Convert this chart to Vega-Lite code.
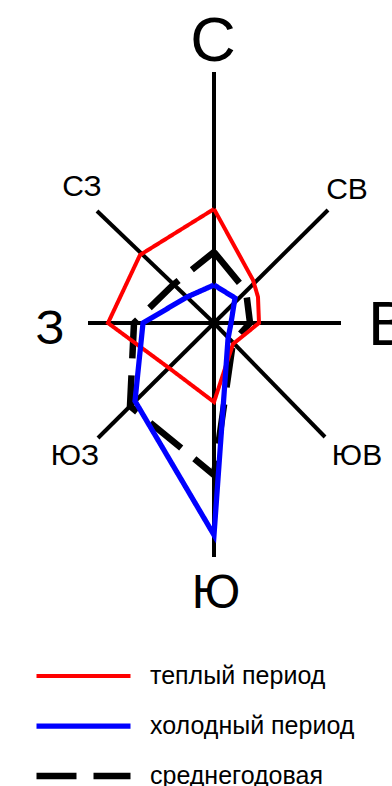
{
  "$schema": "https://vega.github.io/schema/vega-lite/v6.json",
  "width": 392,
  "height": 786,
  "padding": 0,
  "autosize": {"type": "none"},
  "background": "#ffffff",
  "config": {"view": {"stroke": null}, "font": "Liberation Sans"},
  "datasets": {
    "axes": [
      {"dir": "С", "x": 0, "y": 251},
      {"dir": "СВ", "x": 114, "y": 113},
      {"dir": "В", "x": 127, "y": 0},
      {"dir": "ЮВ", "x": 111, "y": -114},
      {"dir": "Ю", "x": 0, "y": -234},
      {"dir": "ЮЗ", "x": -116, "y": -115},
      {"dir": "З", "x": -126, "y": 0},
      {"dir": "СЗ", "x": -117, "y": 112}
    ],
    "polys": [
      {"series": "среднегодовая", "i": 0, "dir": "С", "x": 0, "y": 71},
      {"series": "среднегодовая", "i": 1, "dir": "СВ", "x": 32, "y": 32},
      {"series": "среднегодовая", "i": 2, "dir": "В", "x": 36, "y": 0},
      {"series": "среднегодовая", "i": 3, "dir": "ЮВ", "x": 19, "y": -19},
      {"series": "среднегодовая", "i": 4, "dir": "Ю", "x": 0, "y": -152},
      {"series": "среднегодовая", "i": 5, "dir": "ЮЗ", "x": -84, "y": -83},
      {"series": "среднегодовая", "i": 6, "dir": "З", "x": -80, "y": 0},
      {"series": "среднегодовая", "i": 7, "dir": "СЗ", "x": -41, "y": 38},
      {"series": "среднегодовая", "i": 8, "dir": "С", "x": 0, "y": 71},
      {"series": "теплый период", "i": 0, "dir": "С", "x": 0, "y": 114},
      {"series": "теплый период", "i": 1, "dir": "СВ", "x": 39, "y": 43},
      {"series": "теплый период", "i": 2, "dir": "СВ-В", "x": 44, "y": 26},
      {"series": "теплый период", "i": 3, "dir": "В", "x": 45, "y": 0},
      {"series": "теплый период", "i": 4, "dir": "ЮВ", "x": 19, "y": -21},
      {"series": "теплый период", "i": 5, "dir": "Ю", "x": 0, "y": -79},
      {"series": "теплый период", "i": 6, "dir": "ЮЗ", "x": -45, "y": -45},
      {"series": "теплый период", "i": 7, "dir": "З", "x": -106, "y": 0},
      {"series": "теплый период", "i": 8, "dir": "СЗ", "x": -74, "y": 68},
      {"series": "теплый период", "i": 9, "dir": "С", "x": 0, "y": 114},
      {"series": "холодный период", "i": 0, "dir": "С", "x": 0, "y": 38},
      {"series": "холодный период", "i": 1, "dir": "СВ", "x": 21, "y": 25},
      {"series": "холодный период", "i": 2, "dir": "В", "x": 17, "y": 0},
      {"series": "холодный период", "i": 3, "dir": "ЮВ", "x": 14, "y": -16},
      {"series": "холодный период", "i": 4, "dir": "Ю", "x": 0, "y": -212},
      {"series": "холодный период", "i": 5, "dir": "ЮЗ", "x": -79, "y": -78},
      {"series": "холодный период", "i": 6, "dir": "З", "x": -71, "y": 0},
      {"series": "холодный период", "i": 7, "dir": "СЗ", "x": -27, "y": 26},
      {"series": "холодный период", "i": 8, "dir": "С", "x": 0, "y": 38}
    ],
    "bigLabels": [
      {"label": "С", "x": -1, "y": 262},
      {"label": "В", "x": 175, "y": -22}
    ],
    "midLabels": [
      {"label": "З", "x": -164, "y": -21},
      {"label": "Ю", "x": 2, "y": -285}
    ],
    "smallLabels": [
      {"label": "СЗ", "x": -132, "y": 127},
      {"label": "СВ", "x": 133, "y": 124},
      {"label": "ЮЗ", "x": -139, "y": -142},
      {"label": "ЮВ", "x": 143, "y": -142}
    ]
  },
  "encoding": {
    "x": {"field": "x", "type": "quantitative", "scale": {"domain": [-214, 178], "nice": false, "zero": false}, "axis": null},
    "y": {"field": "y", "type": "quantitative", "scale": {"domain": [-463, 323], "nice": false, "zero": false}, "axis": null}
  },
  "layer": [
    {
      "data": {"name": "axes"},
      "mark": {"type": "rule", "color": "#000000", "strokeWidth": 4, "strokeCap": "butt"},
      "encoding": {
        "x": {"datum": 0, "type": "quantitative", "scale": {"domain": [-214, 178], "nice": false, "zero": false}, "axis": null},
        "y": {"datum": 0, "type": "quantitative", "scale": {"domain": [-463, 323], "nice": false, "zero": false}, "axis": null},
        "x2": {"field": "x"},
        "y2": {"field": "y"}
      }
    },
    {
      "data": {"name": "polys"},
      "mark": {"type": "line", "strokeJoin": "miter", "strokeCap": "butt"},
      "encoding": {
        "order": {"field": "i", "type": "quantitative"},
        "color": {
          "field": "series",
          "type": "nominal",
          "scale": {"domain": ["теплый период", "холодный период", "среднегодовая"], "range": ["#ff0000", "#0000ff", "#000000"]},
          "legend": {
            "title": null,
            "orient": "none",
            "legendX": 33,
            "legendY": 664,
            "padding": 0,
            "symbolType": "stroke",
            "symbolSize": 8836,
            "symbolStrokeWidth": 7,
            "clipHeight": 24,
            "rowPadding": 25,
            "labelFont": "Liberation Sans",
            "labelFontSize": 25,
            "labelColor": "#000000",
            "labelOffset": 16,
            "labelLimit": 300
          }
        },
        "strokeDash": {
          "field": "series",
          "type": "nominal",
          "scale": {"domain": ["теплый период", "холодный период", "среднегодовая"], "range": [[1, 0], [1, 0], [40, 17]]}
        },
        "strokeWidth": {
          "field": "series",
          "type": "nominal",
          "scale": {"domain": ["теплый период", "холодный период", "среднегодовая"], "range": [4, 6.5, 7]},
          "legend": null
        }
      }
    },
    {
      "data": {"name": "bigLabels"},
      "mark": {"type": "text", "font": "Liberation Sans", "fontSize": 63, "align": "center", "baseline": "alphabetic", "color": "#000000"},
      "encoding": {"text": {"field": "label"}}
    },
    {
      "data": {"name": "midLabels"},
      "mark": {"type": "text", "font": "Liberation Sans", "fontSize": 48, "align": "center", "baseline": "alphabetic", "color": "#000000"},
      "encoding": {"text": {"field": "label"}}
    },
    {
      "data": {"name": "smallLabels"},
      "mark": {"type": "text", "font": "Liberation Sans", "fontSize": 30, "align": "center", "baseline": "alphabetic", "color": "#000000"},
      "encoding": {"text": {"field": "label"}}
    }
  ]
}
